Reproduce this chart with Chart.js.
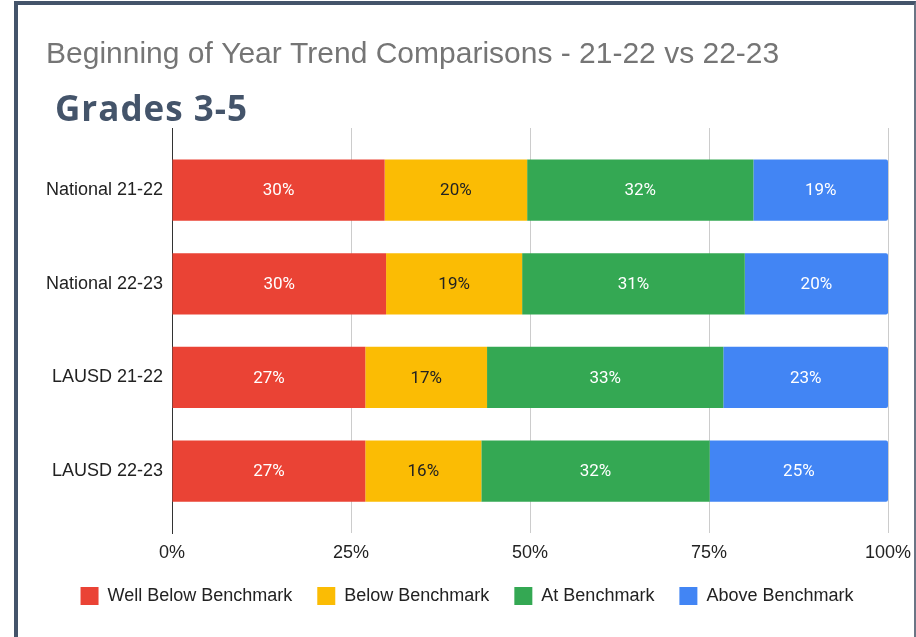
<!DOCTYPE html>
<html lang="en">
  <head>
    <meta charset="UTF-8" />
    <title>Beginning of Year Trend Comparisons</title>
    <script src="https://cdn.jsdelivr.net/npm/chart.js"></script>
    <style>
      body {
        margin: 0;
        width: 916px;
        height: 637px;
        overflow: hidden;
        background: #fff;
        position: relative;
      }
      /* marco del recorte */
      #frame {
        position: absolute;
        left: 14px;
        top: 1px;
        width: 902px;
        height: 700px;
        box-sizing: border-box;
        border-left: 4px solid #44546a;
        border-top: 4px solid #44546a;
        border-right: 2px solid #6b7585;
      }
      #chartContainer {
        position: absolute;
        left: 18px;
        top: 5px;
        width: 895px;
        height: 632px;
      }
      #grades {
        position: absolute;
        left: 55px;
        top: 90px;
        font-family: "Open Sans", sans-serif;
        font-weight: 700;
        font-size: 35px;
        letter-spacing: 1px;
        line-height: 1;
        color: #44546a;
      }
    </style>
  </head>

  <body>
    <div id="frame"></div>
    <div id="chartContainer">
      <canvas id="trendChart"></canvas>
    </div>
    <div id="grades">Grades 3-5</div>

    <script>
      // Datos
      const categories = ["National 21-22", "National 22-23", "LAUSD 21-22", "LAUSD 22-23"];
      const seriesNames = ["Well Below Benchmark", "Below Benchmark", "At Benchmark", "Above Benchmark"];
      const wellBelow = [29.7, 29.9, 27.0, 27.0];
      const below = [19.9, 19.0, 17.0, 16.2];
      const atBench = [31.6, 31.1, 33.0, 31.9];
      const above = [18.8, 20.0, 23.0, 24.9];
      const xTicks = [0, 25, 50, 75, 100];

      const colors = ["#ea4335", "#fbbc04", "#34a853", "#4285f4"];
      const labelColors = ["#ffffff", "#222222", "#ffffff", "#ffffff"];

      const baseFont = "'Liberation Sans', Arial, sans-serif";

      // etiquetas de valor en el centro de cada barra
      const barLabels = {
        id: "barLabels",
        afterDatasetsDraw(chart) {
          const ctx = chart.ctx;
          ctx.save();
          ctx.font = "17px Roboto, sans-serif";
          ctx.textAlign = "center";
          ctx.textBaseline = "middle";
          chart.data.datasets.forEach((ds, i) => {
            const meta = chart.getDatasetMeta(i);
            ctx.fillStyle = labelColors[i];
            meta.data.forEach((bar, j) => {
              const cx = (bar.x + bar.base) / 2;
              ctx.fillText(Math.round(ds.data[j]) + "%", cx, bar.y + 1);
            });
          });
          ctx.restore();
        },
      };

      const allSeries = [wellBelow, below, atBench, above];

      const ctx = document.getElementById("trendChart").getContext("2d");
      const trendChart = new Chart(ctx, {
        type: "bar",
        data: {
          labels: categories.map((c, i) => i),
          datasets: allSeries.map((values, i) => ({
            label: seriesNames[i],
            data: values,
            backgroundColor: colors[i],
            borderRadius: i === 3 ? 2 : 0,
            barPercentage: 0.654,
            categoryPercentage: 1,
          })),
        },
        options: {
          indexAxis: "y",
          responsive: true,
          maintainAspectRatio: false,
          animation: false,
          layout: {
            padding: { left: 28, right: 25, top: 0, bottom: 22 },
          },
          scales: {
            x: {
              stacked: true,
              min: 0,
              max: 100,
              afterBuildTicks: (scale) => {
                scale.ticks = xTicks.map((v) => ({ value: v }));
              },
              afterFit: (scale) => {
                scale.height = 29;
                scale.paddingLeft = 0;
                scale.paddingRight = 0;
              },
              ticks: {
                padding: 11,
                color: "#222",
                font: { family: baseFont, size: 18, lineHeight: 1 },
                callback: (v) => v + "%",
              },
              grid: {
                drawTicks: false,
                color: (c) => (c.tick && c.tick.value === 0 ? "#333" : "#cccccc"),
              },
              border: { display: false },
            },
            y: {
              type: "linear",
              stacked: true,
              reverse: true,
              offset: false,
              min: -0.663,
              max: 3.66,
              afterBuildTicks: (scale) => {
                scale.ticks = categories.map((c, i) => ({ value: i }));
              },
              afterFit: (scale) => {
                scale.width = 126;
              },
              ticks: {
                padding: 9,
                color: "#222",
                font: { family: baseFont, size: 18 },
                callback: (v) => categories[v],
              },
              grid: { display: false, drawTicks: false, offset: false },
              border: { display: true, color: "#333", width: 1 },
            },
          },
          plugins: {
            title: {
              display: true,
              text: "Beginning of Year Trend Comparisons - 21-22 vs 22-23",
              align: "start",
              color: "#757575",
              font: { family: baseFont, size: 30, weight: "normal" },
              padding: { top: 32, bottom: 55 },
            },
            legend: {
              position: "bottom",
              labels: {
                color: "#222",
                font: { family: baseFont, size: 18 },
                boxWidth: 18,
                boxHeight: 18,
                padding: 25,
              },
            },
            tooltip: {
              callbacks: {
                title: (items) => categories[items[0].parsed.y],
                label: (c) => c.dataset.label + ": " + Math.round(c.raw) + "%",
              },
            },
          },
        },
        plugins: [barLabels],
      });
    </script>
  </body>
</html>
